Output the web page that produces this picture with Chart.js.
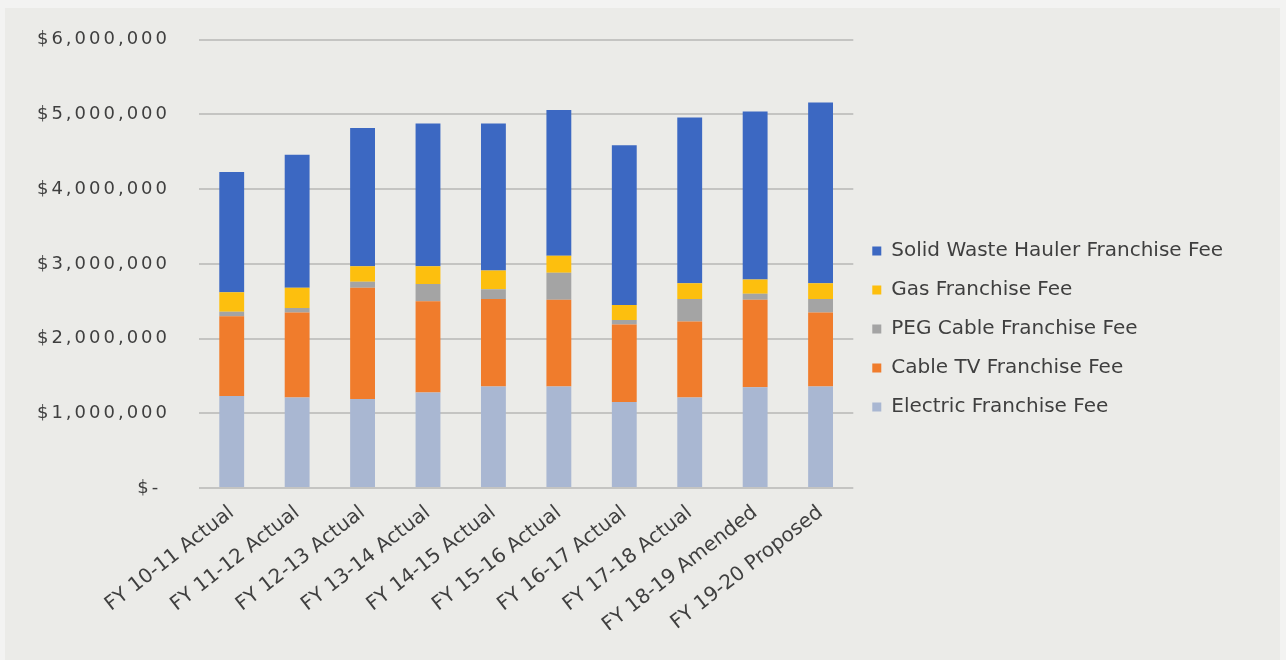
<!DOCTYPE html>
<html>
<head>
<meta charset="utf-8">
<script src="https://cdn.jsdelivr.net/npm/chart.js@4"></script>
<style>
  html, body { margin: 0; padding: 0; background: #f3f3f2; }
  #wrap { position: relative; width: 1286px; height: 660px; }
  #panel { position: absolute; left: 5px; top: 8px; right: 6px; bottom: 0; background: #ebebe8; }
  #chart { position: absolute; left: 0; top: 0; }
</style>
</head>
<body>
<div id="wrap">
  <div id="panel"></div>
  <canvas id="chart" width="1286" height="660"></canvas>
</div>
<script>
const years = ['FY 10-11 Actual', 'FY 11-12 Actual', 'FY 12-13 Actual', 'FY 13-14 Actual', 'FY 14-15 Actual',
  'FY 15-16 Actual', 'FY 16-17 Actual', 'FY 17-18 Actual', 'FY 18-19 Amended', 'FY 19-20 Proposed'];

// fee revenue per fiscal year, bottom of the stack first
const electricFee = [1230000, 1210000, 1190000, 1280000, 1360000, 1360000, 1150000, 1210000, 1350000, 1360000];
const cableTvFee = [1070000, 1140000, 1490000, 1220000, 1170000, 1160000, 1040000, 1020000, 1170000, 990000];
const pegCableFee = [60000, 60000, 80000, 230000, 130000, 360000, 60000, 300000, 80000, 180000];
const gasFee = [260000, 270000, 210000, 240000, 250000, 230000, 200000, 210000, 190000, 210000];
const solidWasteFee = [1610000, 1780000, 1850000, 1910000, 1970000, 1950000, 2140000, 2220000, 2250000, 2420000];

const yTicks = [0, 1000000, 2000000, 3000000, 4000000, 5000000, 6000000];

const textColor = '#3f3f3f';

// the dollar labels on the y axis are drawn with extra tracking
const trackedYLabels = {
  id: 'trackedYLabels',
  beforeDraw(chart) {
    const y = chart.scales.y;
    if (y._tracked) return;
    const drawLabels = y.drawLabels.bind(y);
    y.drawLabels = (area) => {
      const ctx = chart.ctx;
      ctx.save();
      ctx.letterSpacing = '3px';
      drawLabels(area);
      ctx.restore();
    };
    y._tracked = true;
  }
};

const bar = (label, data, color) => ({
  label: label,
  data: data,
  backgroundColor: color,
  borderWidth: 0,
  barPercentage: 0.38,
  categoryPercentage: 1
});

new Chart(document.getElementById('chart').getContext('2d'), {
  type: 'bar',
  data: {
    labels: years,
    datasets: [
      bar('Electric Franchise Fee', electricFee, '#a9b7d2'),
      bar('Cable TV Franchise Fee', cableTvFee, '#f07c2c'),
      bar('PEG Cable Franchise Fee', pegCableFee, '#a4a4a4'),
      bar('Gas Franchise Fee', gasFee, '#fdbf0e'),
      bar('Solid Waste Hauler Franchise Fee', solidWasteFee, '#3c68c2')
    ]
  },
  plugins: [trackedYLabels],
  options: {
    responsive: false,
    animation: false,
    layout: { padding: { top: 28, right: 53, bottom: 30, left: 0 } },
    plugins: {
      tooltip: { enabled: false },
      legend: {
        position: 'right',
        reverse: true,
        maxWidth: 500,
        labels: {
          boxWidth: 9,
          boxHeight: 9,
          padding: 19,
          color: textColor,
          font: { family: 'DejaVu Sans', size: 20 }
        }
      }
    },
    scales: {
      x: {
        stacked: true,
        afterFit: (scale) => { scale.height = 142; },
        grid: { display: false },
        border: { display: false },
        ticks: {
          color: textColor,
          font: { family: 'DejaVu Sans', size: 20 },
          minRotation: 38,
          maxRotation: 38,
          padding: 5
        }
      },
      y: {
        stacked: true,
        min: 0,
        max: 6000000,
        afterBuildTicks: (scale) => { scale.ticks = yTicks.map(v => ({ value: v })); },
        afterFit: (scale) => { scale.width = 199; },
        grid: { color: '#c4c4c2', lineWidth: 2, drawTicks: false },
        border: { display: false },
        ticks: {
          color: textColor,
          font: { family: 'DejaVu Sans', size: 18 },
          padding: 29,
          callback: (v) => v === 0 ? '$- ' : '$' + v.toLocaleString('en-US')
        }
      }
    }
  }
});
</script>
</body>
</html>
